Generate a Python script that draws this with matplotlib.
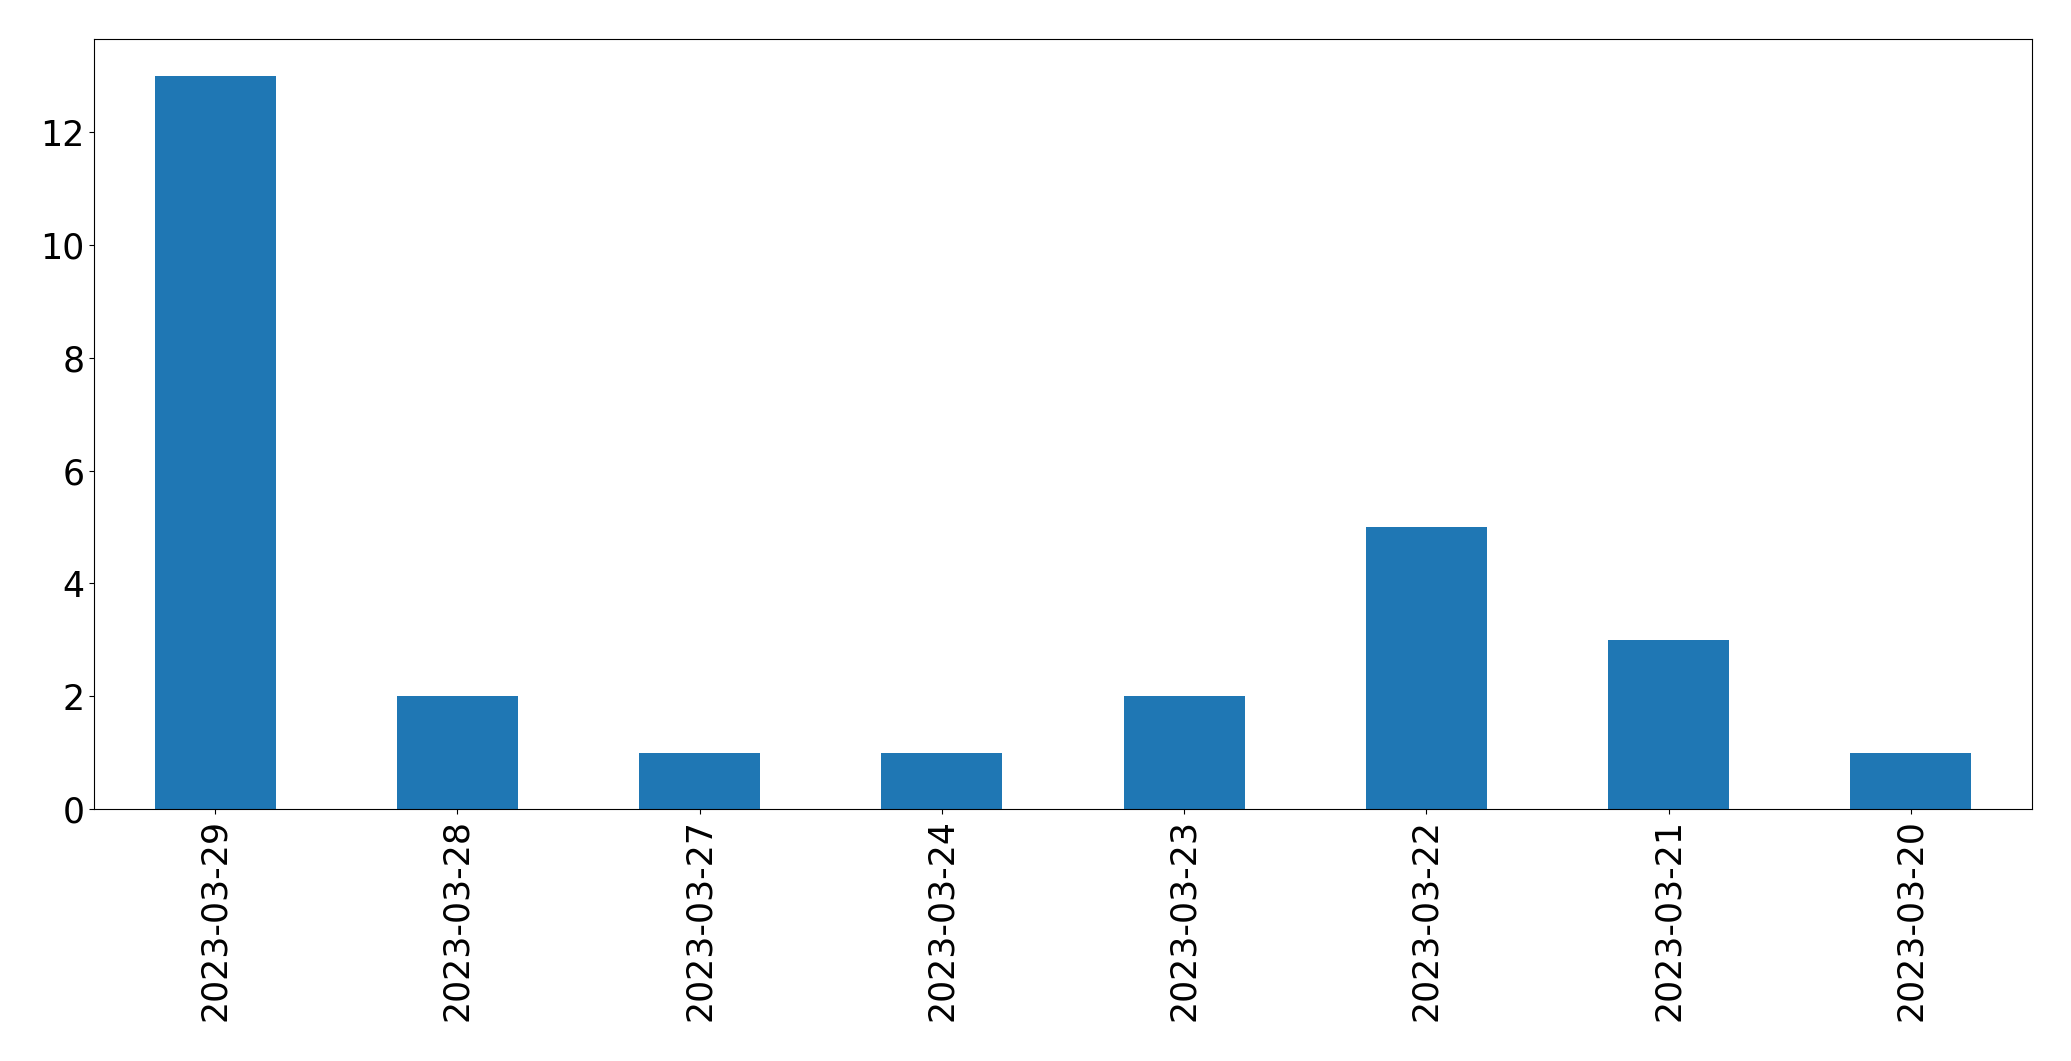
import matplotlib
matplotlib.use('Agg')
import matplotlib.pyplot as plt
import pandas as pd

plt.rcParams['font.family'] = 'DejaVu Sans'

dates = ['2023-03-29', '2023-03-28', '2023-03-27', '2023-03-24',
         '2023-03-23', '2023-03-22', '2023-03-21', '2023-03-20']
counts = [13, 2, 1, 1, 2, 5, 3, 1]

s = pd.Series(counts, index=dates)

fig = plt.figure(figsize=(20.71, 10.61), dpi=100)
ax = fig.add_axes([94 / 2071, 1 - 809 / 1061, (2032 - 94) / 2071, (809 - 39) / 1061])
s.plot(kind='bar', ax=ax, color='#1f77b4')
ax.tick_params(axis='both', labelsize=25)
ax.set_ylim(0, 13.65)

fig.savefig('out.png', dpi=100)
